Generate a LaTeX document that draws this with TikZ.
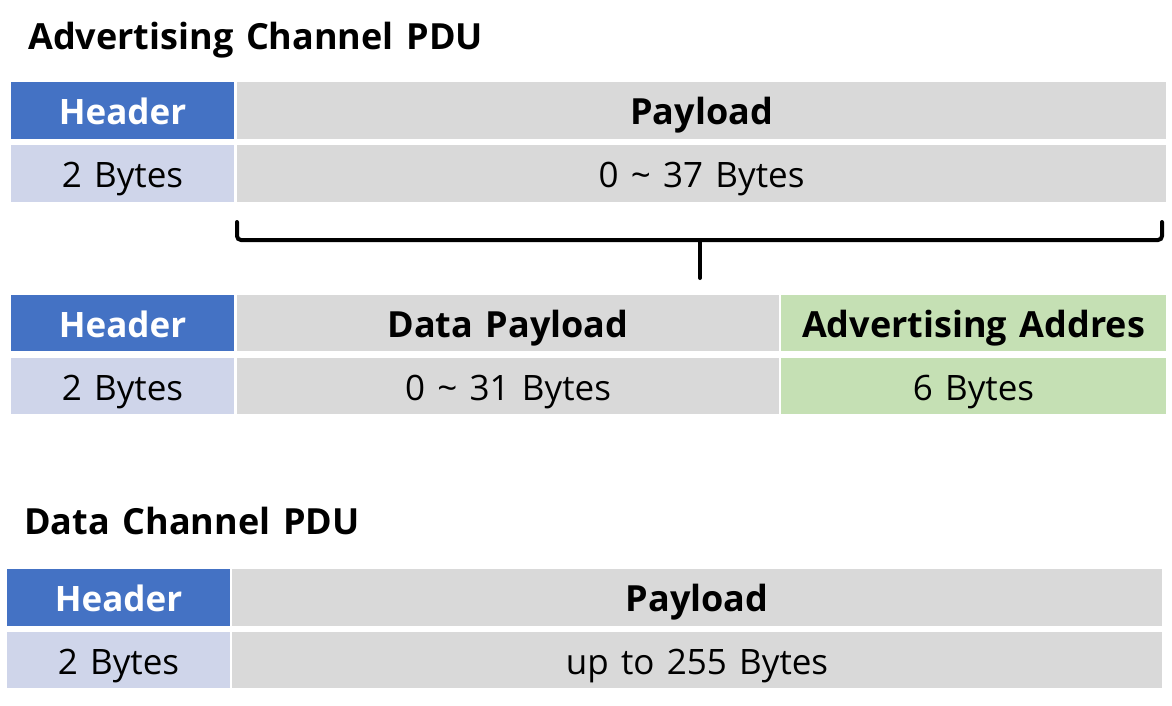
\documentclass[tikz,border=0pt]{standalone}
\usepackage{fontspec}
\setmainfont{Open Sans}[WordSpace=1.35]
\definecolor{hdrblue}{HTML}{4472C4}
\definecolor{hdrlight}{HTML}{CFD5EA}
\definecolor{cellgrey}{HTML}{D9D9D9}
\definecolor{cellgreen}{HTML}{C5E0B4}
\tikzset{
  cell/.style={rectangle, inner sep=0pt, outer sep=0pt, anchor=north west, draw=none, align=center, text height=28pt, text depth=0pt},
  hdrcell/.style={cell, fill=hdrblue, text=white, font=\bfseries\fontsize{35}{40}\selectfont},
  boldcell/.style={cell, fill=cellgrey, text=black, font=\bfseries\fontsize{36}{40}\selectfont},
  greenbold/.style={cell, fill=cellgreen, text=black, font=\bfseries\fontsize{36}{40}\selectfont},
  sizecell/.style={cell, fill=cellgrey, text=black, font=\fontsize{35}{40}\selectfont},
  hdrsize/.style={cell, fill=hdrlight, text=black, font=\fontsize{35}{40}\selectfont},
  greensize/.style={cell, fill=cellgreen, text=black, font=\fontsize{35}{40}\selectfont},
  titletext/.style={anchor=base west, inner sep=0pt, font=\bfseries\fontsize{36}{40}\selectfont},
  bracket/.style={line width=4pt, rounded corners=4pt, line cap=round}
}
\begin{document}
\begin{tikzpicture}[x=1pt,y=-1pt]
\useasboundingbox (0,0) rectangle (1172,705);
% Title 1
\node[titletext] (t1) at (28,49) {Advertising Channel PDU};
% Table 1
\node[hdrcell, minimum width=223pt, minimum height=57pt] (h1) at (11,82) {Header};
\node[boldcell, minimum width=929pt, minimum height=57pt] (p1) at (237,82) {Payload};
\node[hdrsize, minimum width=223pt, minimum height=57pt] (h1s) at (11,145) {2 Bytes};
\node[sizecell, minimum width=929pt, minimum height=57pt] (p1s) at (237,145) {0 \textasciitilde{} 37 Bytes};
% Bracket
\coordinate (bl) at (237,222);
\coordinate (br) at (1162,222);
\coordinate (bm) at (700,240);
\coordinate (bs) at (700,278);
\draw[bracket] (bl) |- (bm) -| (br);
\draw[line width=4pt, line cap=round] (bm) -- (bs);
% Table 2
\node[hdrcell, minimum width=223pt, minimum height=56pt] (h2) at (11,295) {Header};
\node[boldcell, minimum width=542pt, minimum height=56pt] (d2) at (237,295) {Data Payload};
\node[greenbold, minimum width=385pt, minimum height=56pt] (a2) at (781,295) {Advertising Addres};
\node[hdrsize, minimum width=223pt, minimum height=56pt] (h2s) at (11,358) {2 Bytes};
\node[sizecell, minimum width=542pt, minimum height=56pt] (d2s) at (237,358) {0 \textasciitilde{} 31 Bytes};
\node[greensize, minimum width=385pt, minimum height=56pt] (a2s) at (781,358) {6 Bytes};
% Title 2
\node[titletext] (t2) at (24,534) {Data Channel PDU};
% Table 3
\node[hdrcell, minimum width=223pt, minimum height=57pt] (h3) at (7,569) {Header};
\node[boldcell, minimum width=930pt, minimum height=57pt] (p3) at (232,569) {Payload};
\node[hdrsize, minimum width=223pt, minimum height=56pt] (h3s) at (7,632) {2 Bytes};
\node[sizecell, minimum width=930pt, minimum height=56pt] (p3s) at (232,632) {up to 255 Bytes};
\end{tikzpicture}
\end{document}
